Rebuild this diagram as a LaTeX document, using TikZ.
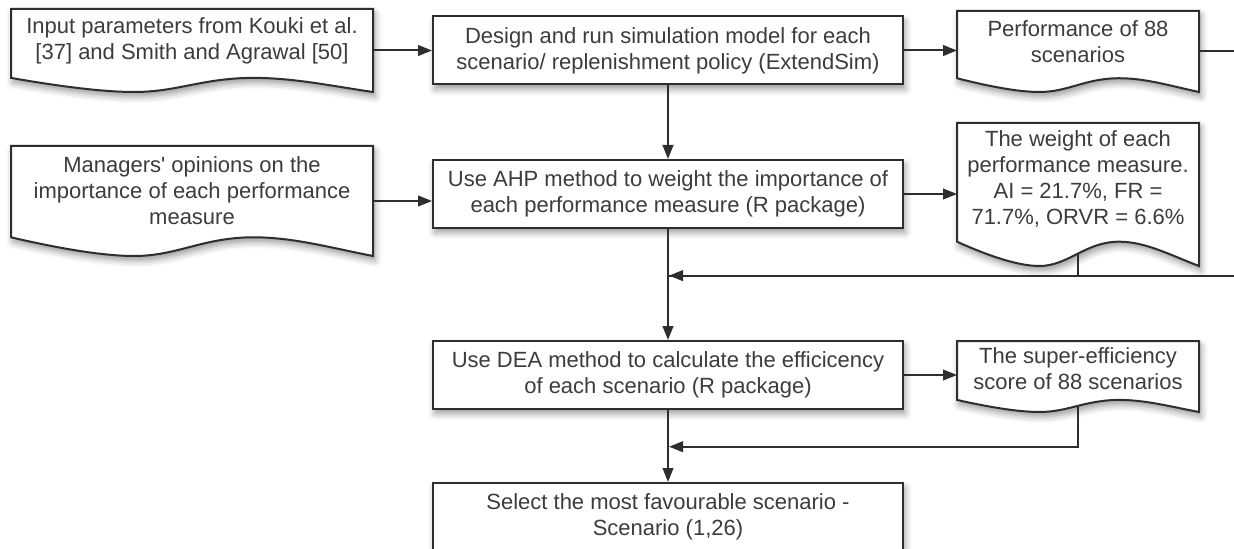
\documentclass[tikz,border=0pt]{standalone}
\usepackage{fontspec}
\setmainfont{Liberation Sans}
\usetikzlibrary{arrows.meta,calc,shadows.blur}

\definecolor{linec}{HTML}{2E2E2E}
\definecolor{textc}{HTML}{3C3C3C}

\tikzset{
    softshadow/.style = {blur shadow = {shadow xshift = 1.5pt, shadow yshift = -3.5pt,
        shadow blur radius = 5pt, shadow opacity = 40}},
    procbox/.style = {draw = linec, line width = 1.5pt, fill = white, softshadow,
        minimum width = 352.5pt, minimum height = 51pt, align = center, text = textc},
    docbox/.style = {inner sep = 0pt, outer sep = 0pt},
    docline/.style = {draw = linec, line width = 1.5pt, fill = white, softshadow},
    doctext/.style = {align = center, text = textc, inner sep = 0pt},
    line/.style = {draw = linec, line width = 1.5pt},
    arr/.style = {line, -{Triangle[length = 10.5pt, width = 8pt]}}
}

% outline of a document shape round node #1, wavy bottom
\newcommand\docshape[1]{%
    \path[docline] let \p1 = (#1.north west), \p2 = (#1.south east),
        \n1 = {0.17*(\y1-\y2)}, \n2 = {\x2-\x1} in
        (\p1) -- (\x2,\y1) -- (\p2)
        .. controls ({\x2-0.12*\n2},{\y2+0.45*\n1}) and ({\x1+0.78*\n2},{\y2+\n1}) .. ({\x1+0.67*\n2},{\y2+\n1})
        .. controls ({\x1+0.53*\n2},{\y2+\n1}) and ({\x1+0.46*\n2},{\y2}) .. ({\x1+0.34*\n2},{\y2})
        .. controls ({\x1+0.24*\n2},{\y2}) and ({\x1+0.1*\n2},{\y2+0.55*\n1}) .. (\x1,{\y2+\n1}) -- cycle;
    \path let \p1 = (#1.north), \p2 = (#1.south) in ({\x2},{\y2+0.085*(\y1-\y2)}) coordinate (#1-mid);
}

\begin{document}
\begin{tikzpicture}[x = 0.75pt, y = -0.75pt, font = \fontsize{16.5pt}{19.5pt}\selectfont]
    \useasboundingbox (0,0) rectangle (1234,549);

    % process boxes
    \node[procbox] (des) at (668,50.5) {Design and run simulation model for each\\ scenario/ replenishment policy (ExtendSim)};
    \node[procbox] (ahp) at (668,194) {Use AHP method to weight the importance of\\ each performance measure (R package)};
    \node[procbox] (dea) at (668,375) {Use DEA method to calculate the efficicency\\ of each scenario (R package)};
    \node[procbox] (sel) at (668,517) {Select the most favourable scenario -\\ Scenario (1,26)};

    % document shapes
    \node[docbox, minimum width = 271.5pt, minimum height = 62.25pt] (inp) at (192,50.5) {};
    \node[docbox, minimum width = 181.5pt, minimum height = 60.75pt] (perf) at (1078,51.5) {};
    \node[docbox, minimum width = 271.5pt, minimum height = 82.5pt] (mgr) at (192,201) {};
    \node[docbox, minimum width = 181.5pt, minimum height = 107.25pt] (wgt) at (1078,194.5) {};
    \node[docbox, minimum width = 181.5pt, minimum height = 53.25pt] (sup) at (1078,376.5) {};
    \docshape{inp}
    \docshape{perf}
    \docshape{mgr}
    \docshape{wgt}
    \docshape{sup}

    \node[doctext] (inp-t) at ([yshift = 7pt]inp.center) {Input parameters from Kouki et al.\\{}[37] and Smith and Agrawal [50]};
    \node[doctext] (perf-t) at ([yshift = 7.5pt]perf.center) {Performance of 88\\ scenarios};
    \node[doctext] (mgr-t) at ([yshift = 8pt]mgr.center) {Managers\textquotesingle{} opinions on the\\ importance of each performance\\ measure};
    \node[doctext] (wgt-t) at ([yshift = 11.5pt]wgt.center) {The weight of each\\ performance measure.\\ AI = 21.7\%, FR =\\ 71.7\%, ORVR = 6.6\%};
    \node[doctext] (sup-t) at ([yshift = 6pt]sup.center) {The super-efficiency\\ score of 88 scenarios};

    \coordinate (j1) at ($(ahp.south)!0.42!(dea.north)$);
    \coordinate (j2) at ($(dea.south)!0.51!(sel.north)$);

    % connectors
    \draw[arr] (inp.east) -- (des.west);
    \draw[arr] (des.east) -- (des.east -| perf.west);
    \draw[line] (perf.east) -- ++(60,0) |- (j1);
    \draw[arr] (des.south) -- (ahp.north);
    \draw[arr] (mgr.east) -- (mgr.east -| ahp.west);
    \draw[arr] (ahp.east) -- (ahp.east -| wgt.west);
    \draw[arr] (ahp.south) -- (dea.north);
    \draw[arr, shorten > = 0.75pt] (wgt-mid) |- (j1);
    \draw[arr] (dea.east) -- (dea.east -| sup.west);
    \draw[arr, shorten > = 0.75pt] (sup-mid) |- (j2);
    \draw[arr] (dea.south) -- (sel.north);
\end{tikzpicture}
\end{document}
